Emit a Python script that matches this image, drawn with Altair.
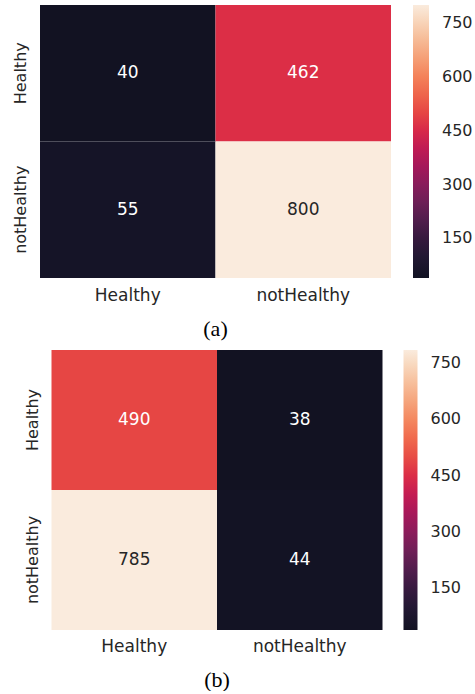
import altair as alt
import pandas as pd

classes = ["Healthy", "notHealthy"]
true_rows = ["Healthy", "Healthy", "notHealthy", "notHealthy"]
pred_cols = ["Healthy", "notHealthy", "Healthy", "notHealthy"]
values_a = [40, 462, 55, 800]
values_b = [490, 38, 785, 44]
colorbar_ticks = [150, 300, 450, 600, 750]
rocket = ["#121222", "#35193e", "#701f57", "#ad1759",
          "#e13342", "#f37651", "#f6b48f", "#faebdd"]

TXT = "#262626"
FONT = "DejaVu Sans"


def panel(values, w, h, caption, gthick, ypad, xpad, loff, toff):
    df = pd.DataFrame({"row": true_rows, "col": pred_cols, "value": values})
    dom = [min(values), max(values)]
    base = alt.Chart(df).encode(
        x=alt.X("col:N", sort=classes, title=None,
                scale=alt.Scale(paddingInner=0, paddingOuter=0),
                axis=alt.Axis(labelAngle=0, ticks=False, domain=False,
                              labelFontSize=17, labelPadding=xpad,
                              labelColor=TXT, labelFont=FONT)),
        y=alt.Y("row:N", sort=classes, title=None,
                scale=alt.Scale(paddingInner=0, paddingOuter=0),
                axis=alt.Axis(labelAngle=270, labelAlign="center",
                              labelBaseline="bottom", ticks=False,
                              domain=False, labelFontSize=16,
                              labelPadding=ypad, labelColor=TXT,
                              labelFont=FONT)),
    )
    rect = base.mark_rect().encode(
        color=alt.Color(
            "value:Q",
            scale=alt.Scale(domain=dom, range=rocket, nice=False, zero=False),
            legend=alt.Legend(title=None, orient="right", offset=loff,
                              direction="vertical",
                              gradientLength=h, gradientThickness=gthick,
                              gradientStrokeWidth=0,
                              values=colorbar_ticks, labelFontSize=16,
                              labelOffset=13, labelColor=TXT,
                              labelFont=FONT, padding=0)))
    text = base.mark_text(font=FONT, fontSize=17).encode(
        text="value:Q",
        color=alt.condition("datum.value > 700", alt.value(TXT),
                            alt.value("white")))
    return alt.layer(rect, text).properties(
        width=w, height=h,
        title=alt.TitleParams(caption, orient="bottom", font="Liberation Serif",
                              fontSize=22, fontWeight="normal", color="black",
                              offset=toff, frame="group", anchor="middle"))


a = panel(values_a, 351, 273, "(a)", 16, 12, 9, 22, 16)
b = panel(values_b, 331, 280, "(b)", 14, 11, 8, 21, 16)

chart = alt.vconcat(a, b, spacing=10, center=True).resolve_scale(
    color="independent"
).properties(
    padding={"left": 12, "top": 5, "right": 0, "bottom": 0},
    background="white",
).configure_view(strokeWidth=0)

chart.save("out.html", embed_options={"renderer": "svg", "actions": False})
